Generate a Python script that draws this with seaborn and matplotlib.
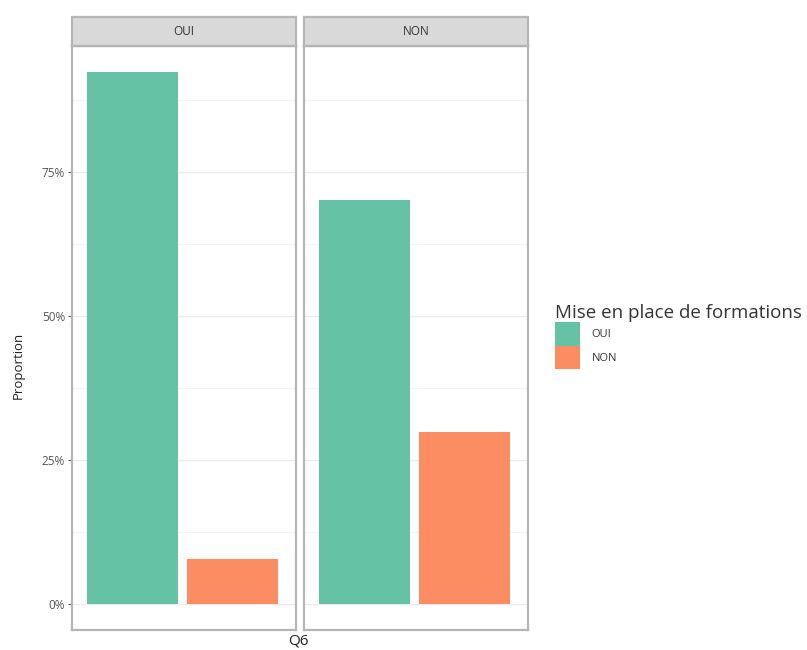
import matplotlib.pyplot as plt
import matplotlib.patches as mpatches
import seaborn as sns
import pandas as pd

# Q6 answer (facet) -> share of "Mise en place de formations" answers
facets = ["OUI", "NON"]
responses = ["OUI", "NON"]
prop_oui = [0.923, 0.077]
prop_non = [0.702, 0.298]
colors = ["#66c2a5", "#fc8d62"]

df = pd.DataFrame({
    "Q6": [f for f in facets for _ in responses],
    "formation": responses * 2,
    "Proportion": prop_oui + prop_non,
})

sns.set_style("white")
plt.rcParams['font.family'] = ['Open Sans', 'DejaVu Sans']

fig = plt.figure(figsize=(8.07, 6.5), dpi=100)
W, H = 807, 650
lefts = [72, 304]
pw = 224
top, bottom = 46, 630

axes = []
for i, facet in enumerate(facets):
    ax = fig.add_axes([lefts[i] / W, 1 - bottom / H, pw / W, (bottom - top) / H])
    sub = df[df["Q6"] == facet]
    sns.barplot(data=sub, x="Q6", y="Proportion", hue="formation", hue_order=responses,
                palette=colors, width=0.84, gap=0.09, ax=ax, saturation=1, linewidth=0)
    ax.set_xlim(-0.462, 0.476)
    ax.set_ylim(-0.046, 0.969)
    ax.set_yticks([0, 0.25, 0.5, 0.75])
    ax.set_yticks([0.125, 0.375, 0.625, 0.875], minor=True)
    ax.grid(True, which="major", axis="y", color="#ebebeb", linewidth=1.0)
    ax.grid(True, which="minor", axis="y", color="#f3f3f3", linewidth=0.6)
    ax.set_axisbelow(True)
    ax.set_xticks([])
    ax.set_xlabel("")
    ax.set_ylabel("")
    for s in ax.spines.values():
        s.set_visible(True)
        s.set_color("#b5b5b5")
        s.set_linewidth(1.6)
    if i == 0:
        ax.set_yticklabels(["0%", "25%", "50%", "75%"])
        ax.tick_params(axis="y", which="major", length=3, color="#555555", width=0.8,
                       labelsize=8.5, labelcolor="#555555", left=True, pad=2)
        ax.tick_params(axis="y", which="minor", length=0)
    else:
        ax.tick_params(axis="y", which="both", length=0, labelleft=False)
    # strip
    strip_h = (top - 17) / (bottom - top)
    ax.add_patch(mpatches.Rectangle((0, 1), 1, strip_h, transform=ax.transAxes,
                                    facecolor="#d9d9d9", edgecolor="#b5b5b5",
                                    linewidth=1.6, clip_on=False))
    ax.text(0.5, 1 + strip_h / 2, facet, transform=ax.transAxes, ha="center",
            va="center", fontsize=8.5, color="#333333")
    ax.get_legend().remove()
    axes.append(ax)

fig.text(18 / W, 1 - 365 / H, "Proportion", rotation=90, ha="center", va="center",
         fontsize=9.5, color="#222222")
fig.text(298 / W, 1 - 641 / H, "Q6", ha="center", va="center", fontsize=11,
         color="#222222")

handles = [mpatches.Patch(facecolor=c, edgecolor="none") for c in colors]
leg = fig.legend(handles, responses, title="Mise en place de formations",
                 loc="upper left", bbox_to_anchor=(551 / W, 1 - 300 / H),
                 frameon=False, fontsize=8, title_fontsize=13.5,
                 handlelength=2.25, handleheight=2.85, labelspacing=0.0,
                 handletextpad=1.0, alignment="left", borderaxespad=0)
for t in leg.get_texts():
    t.set_color("#333333")
leg.get_title().set_color("#333333")

fig.savefig("out.png", dpi=100)
